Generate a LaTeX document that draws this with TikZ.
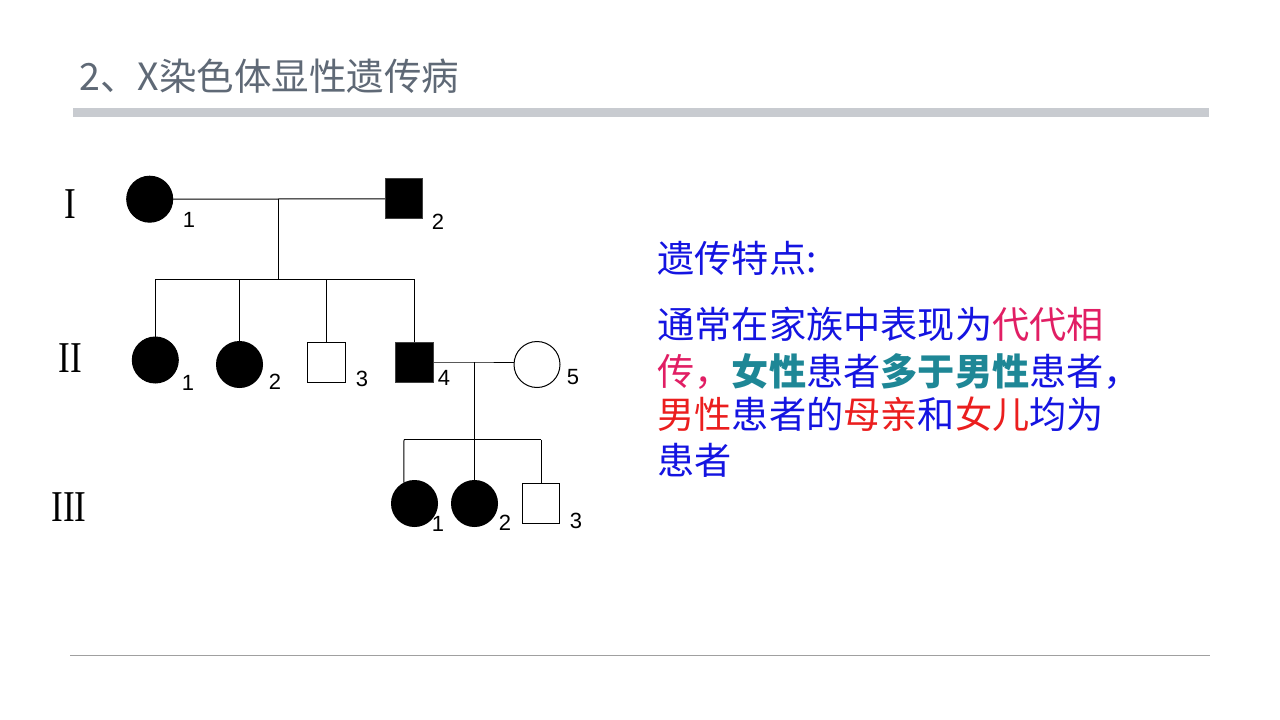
\documentclass[tikz,border=0pt]{standalone}
\usepackage{fontspec}
\setmainfont{Liberation Serif}
\newfontfamily\cjk{Noto Sans CJK SC}
\newfontfamily\arial{Liberation Sans}
\definecolor{tblue}{RGB}{20,20,225}
\definecolor{tcrim}{RGB}{225,30,100}
\definecolor{tteal}{RGB}{30,135,150}
\definecolor{tred}{RGB}{235,30,30}
\definecolor{ttitle}{RGB}{95,105,118}
\definecolor{tbar}{RGB}{200,203,208}
\definecolor{tline}{RGB}{160,160,160}
\begin{document}
\begin{tikzpicture}[x=1pt,y=-1pt,line width=1pt,
 fem/.style={circle,fill=black,draw=black,minimum size=46pt,inner sep=0pt},
 femo/.style={circle,draw=black,fill=white,minimum size=46pt,inner sep=0pt},
 male/.style={rectangle,fill=black,draw=black!75,minimum width=37.5pt,minimum height=40pt,inner sep=0pt},
 maleo/.style={rectangle,draw=black,fill=white,minimum width=37.5pt,minimum height=40pt,inner sep=0pt},
 num/.style={font=\arial\fontsize{22}{22}\selectfont,inner sep=0pt},
 gen/.style={font=\fontsize{44}{44}\selectfont,inner sep=0pt,xscale=0.8},
 txt/.style={font=\cjk\fontsize{37.2}{40}\selectfont,anchor=base west,inner sep=0pt,text=tblue}]
\fill[white] (0,0) rectangle (1280,720);
\useasboundingbox (0,0) rectangle (1280,720);
% title and rules
\node[anchor=base west,inner sep=0pt,font=\cjk\fontsize{37.5}{37.5}\selectfont,text=ttitle] (title) at (79,90) {2、X染色体显性遗传病};
\fill[tbar] (73,108) rectangle (1209,117);
\draw[tline] (70,655) -- (1210,655);
% generation labels
\node[gen] (gI) at (70,204) {I};
\node[gen] (gII) at (70,358) {II};
\node[gen] (gIII) at (69,507) {III};
% generation I
\node[fem] (I1) at (149.7,199.2) {};
\node[male] (I2) at (404,198.8) {};
\node[num] (nI1) at (189,220) {1};
\node[num] (nI2) at (438,222) {2};
\coordinate (mI) at (278.5,199);
\coordinate (sI) at (278.5,279);
% generation II
\node[fem] (II1) at (155.3,360) {};
\node[fem] (II2) at (239.5,364.5) {};
\node[maleo] (II3) at (326.5,362.5) {};
\node[male] (II4) at (414.5,362.5) {};
\node[femo] (II5) at (537,364.5) {};
\node[num] (nII1) at (188,383) {1};
\node[num] (nII2) at (275,382) {2};
\node[num] (nII3) at (362,379) {3};
\node[num] (nII4) at (444,378) {4};
\node[num] (nII5) at (573,377) {5};
\coordinate (mII) at (474,362);
\coordinate (sII) at (474,439.5);
% generation III
\node[fem] (III1) at (414.5,503.5) {};
\node[fem] (III2) at (474.5,503.5) {};
\node[maleo] (III3) at (541,503) {};
\node[num] (nIII1) at (438,523.5) {1};
\node[num] (nIII2) at (505,523) {2};
\node[num] (nIII3) at (576,521) {3};
\coordinate (dIII1) at (404,439.5);
% connectors gen I -> II
\draw (I1) -- (I2);
\draw (mI) -- (sI);
\draw (II1.north |- sI) -- (II4.north |- sI);
\draw (II1.north |- sI) -- (II1.north);
\draw (II2.north |- sI) -- (II2.north);
\draw (II3.north |- sI) -- (II3.north);
\draw (II4.north |- sI) -- (II4.north);
% connectors gen II -> III
\draw (II4.east |- mII) -- (mII) -- (II5.west |- mII);
\draw (mII) -- (sII);
\draw (dIII1) -- (III3.north |- sII);
\draw (dIII1) -- (III1.117);
\draw (III2.north |- sII) -- (III2.north);
\draw (III3.north |- sII) -- (III3.north);
% text
\node[txt] (hd) at (657,272) {遗传特点:};
\node[txt] (l1) at (657,338) {通常在家族中表现为\textcolor{tcrim}{代代相}};
\node[txt] (l2) at (657,385) {\textcolor{tcrim}{传，}\textbf{\textcolor{tteal}{女性}}患者\textbf{\textcolor{tteal}{多于男性}}患者，};
\node[txt] (l3) at (657,428) {\textcolor{tred}{男性}患者的\textcolor{tred}{母亲}和\textcolor{tred}{女儿}均为};
\node[txt] (l4) at (657,474) {患者};
\end{tikzpicture}
\end{document}
